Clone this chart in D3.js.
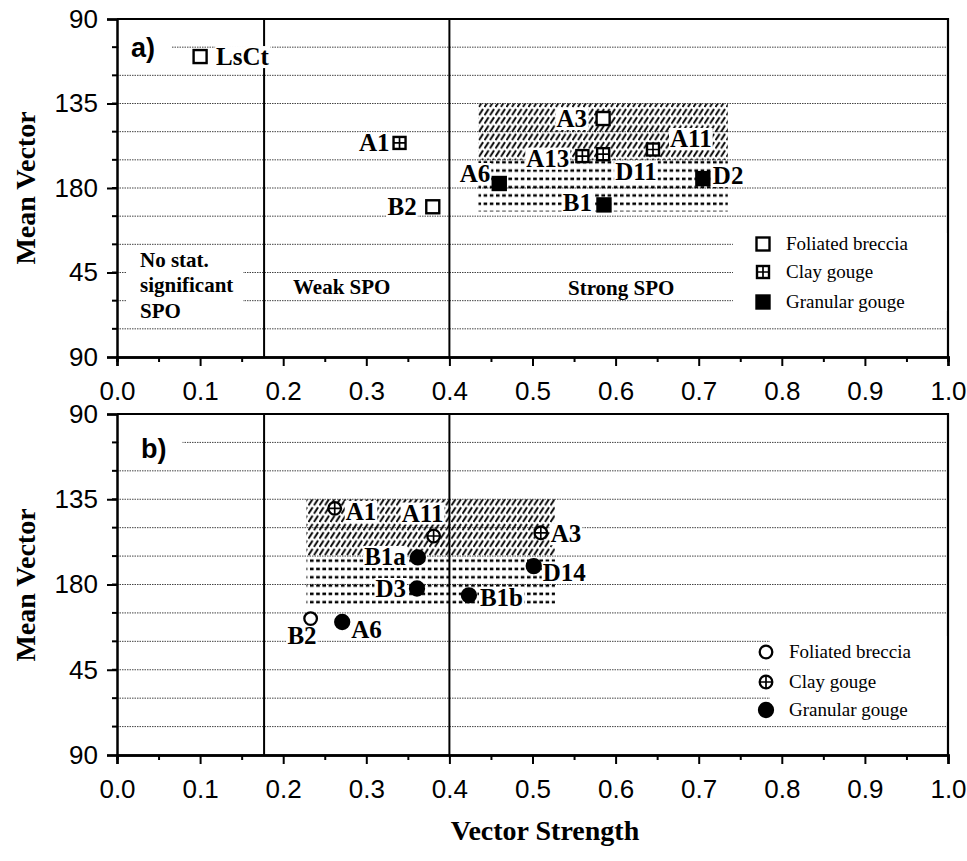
<!DOCTYPE html>
<html>
<head>
<meta charset="utf-8">
<script src="https://cdnjs.cloudflare.com/ajax/libs/d3/7.8.5/d3.min.js"></script>
<title>Vector strength vs mean vector</title>
<style>
    html, body { margin: 0; background: #fff; }
    svg { display: block; }
    .serif { font-family: "Liberation Serif", "Times New Roman", serif; }
    .sans { font-family: "Liberation Sans", Arial, Helvetica, sans-serif; }
    .tick text { font-family: "Liberation Sans", Arial, sans-serif; font-size: 26px; fill: #000; }
    .tick line { stroke: #000; stroke-width: 2; }
    .domain { stroke: #000; stroke-width: 2.5; }
    .grid { stroke: #444; stroke-width: 1; stroke-dasharray: 1.5,1; }
</style>
</head>
<body>
<svg id="chart" width="967" height="861"></svg>
<script>
// axes
var xTickValues = [0.0, 0.1, 0.2, 0.3, 0.4, 0.5, 0.6, 0.7, 0.8, 0.9, 1.0];
var xTickLabels = ["0.0", "0.1", "0.2", "0.3", "0.4", "0.5", "0.6", "0.7", "0.8", "0.9", "1.0"];
var yTickValues = [90, 135, 180, 225, 270];
var yTickLabels = ["90", "135", "180", "45", "90"];
var spoLimits = [0.177, 0.4];
var typeNames = ["Foliated breccia", "Clay gouge", "Granular gouge"];
var typeKeys = ["F", "C", "G"];

// panel a)
var aNames    = ["LsCt", "A1", "B2", "A3", "A13", "D11", "A11", "A6", "D2", "B1"];
var aStrength = [0.10, 0.34, 0.38, 0.585, 0.56, 0.585, 0.645, 0.46, 0.705, 0.586];
var aVector   = [110, 156, 190, 143, 163, 162, 159.5, 177.6, 175, 189];
var aType     = ["F", "C", "F", "F", "C", "C", "C", "G", "G", "G"];
var aHatch = [0.435, 0.735, 135, 165];
var aDash  = [0.435, 0.735, 165, 192.5];

// panel b)
var bNames    = ["A1", "A11", "A3", "B1a", "D14", "D3", "B1b", "B2", "A6"];
var bStrength = [0.262, 0.381, 0.51, 0.362, 0.5015, 0.361, 0.4235, 0.233, 0.271];
var bVector   = [139.8, 154.4, 152.7, 165.7, 170.3, 182.1, 185.7, 198, 199.8];
var bType     = ["C", "C", "C", "G", "G", "G", "G", "F", "G"];
var bHatch = [0.228, 0.527, 135, 165];
var bDash  = [0.228, 0.527, 165, 192];

// label placement (px from marker)
var aLabelPos = {
    "LsCt": [16, 0, "start"], "A1": [-10, 0, "end"], "B2": [-16, 0, "end"],
    "A3": [-16, 0, "end"], "A13": [-13, 2, "end"], "D11": [12, 17, "start"],
    "A11": [17, -11, "start"], "A6": [-9, -10, "end"], "D2": [10, -3, "start"],
    "B1": [-12, -2, "end"]
};
var bLabelPos = {
    "A1": [11, 3, "start"], "A11": [-11, -23, "middle"], "A3": [10, 1, "start"],
    "B1a": [-12, -1, "end"], "D14": [9, 6, "start"], "D3": [-11, 0, "end"],
    "B1b": [11, 2, "start"], "B2": [6, 17, "end"], "A6": [9, 7, "start"]
};

var svg = d3.select("#chart");
var defs = svg.append("defs");

defs.append("pattern")
    .attr("id", "hatch")
    .attr("patternUnits", "userSpaceOnUse")
    .attr("width", 5.5).attr("height", 8.3)
    .append("path")
    .attr("d", "M0.5,7.4 L4.6,1.0")
    .attr("stroke", "#000").attr("stroke-width", 1.9);

defs.append("pattern")
    .attr("id", "dash")
    .attr("patternUnits", "userSpaceOnUse")
    .attr("width", 6.2).attr("height", 8.3)
    .append("rect")
    .attr("x", 0).attr("y", 3.3).attr("width", 3.6).attr("height", 2.5)
    .attr("fill", "#000");

var left = 117, right = 948;

function addLabel(g, x, y, txt, anchor, size) {
    var t = g.append("text")
        .attr("class", "serif")
        .attr("x", x).attr("y", y)
        .attr("dy", "0.34em")
        .attr("text-anchor", anchor)
        .style("font-size", size + "px")
        .style("font-weight", "bold")
        .text(txt);
    var bb = t.node().getBBox();
    g.insert("rect", function() { return t.node(); })
        .attr("x", bb.x - 1).attr("y", bb.y + 3)
        .attr("width", bb.width + 2).attr("height", bb.height - 5)
        .attr("fill", "#fff");
    return t;
}

function drawMarker(g, x, y, type, shape) {
    var m = g.append("g").attr("transform", "translate(" + x + "," + y + ")");
    if (shape === "square") {
        var s = type === "C" ? 12 : 13;
        m.append("rect")
            .attr("x", -s / 2).attr("y", -s / 2).attr("width", s).attr("height", s)
            .attr("fill", type === "G" ? "#000" : "#fff")
            .attr("stroke", "#000").attr("stroke-width", 2.4);
        if (type === "C") {
            m.append("path").attr("d", "M0,-6 V6 M-6,0 H6")
                .attr("stroke", "#000").attr("stroke-width", 1.7);
        }
    } else {
        var r = type === "G" ? 7 : 6.3;
        m.append("circle").attr("r", r)
            .attr("fill", type === "G" ? "#000" : "#fff")
            .attr("stroke", "#000").attr("stroke-width", 2.3);
        if (type === "C") {
            m.append("path").attr("d", "M0,-6 V6 M-6,0 H6")
                .attr("stroke", "#000").attr("stroke-width", 1.7);
        }
    }
}

function drawPanel(cfg) {
    var x = d3.scaleLinear().domain([0, 1]).range([left, right]);
    var y = d3.scaleLinear().domain([90, 270]).range([cfg.top, cfg.bottom]);
    var g = svg.append("g");

    // gridlines every 15 degrees
    g.selectAll(".grid")
        .data(d3.range(105, 270, 15))
        .enter().append("line")
        .attr("class", "grid")
        .attr("x1", left).attr("x2", right)
        .attr("y1", function(d) { return y(d); })
        .attr("y2", function(d) { return y(d); });

    // minor y ticks
    g.selectAll(".ymin")
        .data(d3.range(105, 270, 15))
        .enter().append("line")
        .attr("x1", left - 5).attr("x2", left)
        .attr("y1", function(d) { return y(d); })
        .attr("y2", function(d) { return y(d); })
        .attr("stroke", "#000").attr("stroke-width", 2);

    // zones
    g.append("rect")
        .attr("x", x(cfg.hatch[0])).attr("width", x(cfg.hatch[1]) - x(cfg.hatch[0]))
        .attr("y", y(cfg.hatch[2])).attr("height", y(cfg.hatch[3]) - y(cfg.hatch[2]))
        .attr("fill", "url(#hatch)");
    g.append("rect")
        .attr("x", x(cfg.dash[0])).attr("width", x(cfg.dash[1]) - x(cfg.dash[0]))
        .attr("y", y(cfg.dash[2])).attr("height", y(cfg.dash[3]) - y(cfg.dash[2]))
        .attr("fill", "url(#dash)");

    // SPO limits
    g.selectAll(".limit")
        .data(spoLimits)
        .enter().append("line")
        .attr("x1", function(d) { return x(d); })
        .attr("x2", function(d) { return x(d); })
        .attr("y1", cfg.top).attr("y2", cfg.bottom)
        .attr("stroke", "#000").attr("stroke-width", 2);

    // frame top and right
    g.append("path")
        .attr("d", "M" + left + "," + cfg.top + " H" + right + " V" + cfg.bottom)
        .attr("fill", "none").attr("stroke", "#000").attr("stroke-width", 2.2);

    // axes
    g.append("g")
        .attr("transform", "translate(" + left + ",0)")
        .call(d3.axisLeft(y).tickValues(yTickValues).tickSize(10).tickPadding(9)
            .tickFormat(function(d, i) { return yTickLabels[i]; }));

    g.append("g")
        .attr("transform", "translate(0," + cfg.bottom + ")")
        .call(d3.axisBottom(x).tickValues(d3.range(0.05, 1, 0.1)).tickSize(5).tickFormat(""));
    g.append("g")
        .attr("transform", "translate(0," + cfg.bottom + ")")
        .call(d3.axisBottom(x).tickValues(xTickValues).tickSize(9).tickPadding(16)
            .tickFormat(function(d, i) { return xTickLabels[i]; }));

    // y title
    g.append("text")
        .attr("class", "serif")
        .attr("transform", "translate(35," + cfg.titleY + ") rotate(-90)")
        .attr("text-anchor", "middle")
        .style("font-size", "28px").style("font-weight", "bold")
        .text("Mean Vector");

    // panel letter
    var pl = g.append("text")
        .attr("class", "sans")
        .attr("x", cfg.letterX).attr("y", cfg.letterY)
        .style("font-size", "27px").style("font-weight", "bold")
        .text(cfg.letter);
    var pb = pl.node().getBBox();
    g.insert("rect", function() { return pl.node(); })
        .attr("x", left + 2).attr("y", pb.y)
        .attr("width", pb.x + pb.width + 14 - left).attr("height", pb.height)
        .attr("fill", "#fff");

    // legend
    g.append("rect")
        .attr("x", cfg.legend.boxX).attr("y", cfg.legend.boxY)
        .attr("width", right - 1.5 - cfg.legend.boxX).attr("height", cfg.legend.boxH)
        .attr("fill", "#fff");
    typeKeys.forEach(function(k, i) {
        var ly = cfg.legend.rows[i];
        drawMarker(g, cfg.legend.mx, ly, k, cfg.shape);
        g.append("text")
            .attr("class", "serif")
            .attr("x", cfg.legend.mx + 23).attr("y", ly)
            .attr("dy", "0.34em")
            .style("font-size", "19px")
            .text(typeNames[i]);
    });

    if (cfg.zoneLabels) cfg.zoneLabels(g, x, y);

    // points and labels
    cfg.names.forEach(function(n, i) {
        var px = x(cfg.strength[i]), py = y(cfg.vector[i]);
        var lp = cfg.labelPos[n];
        addLabel(g, px + lp[0], py + lp[1], n, lp[2], 25);
    });
    cfg.names.forEach(function(n, i) {
        drawMarker(g, x(cfg.strength[i]), y(cfg.vector[i]), cfg.type[i], cfg.shape);
    });
}

drawPanel({
    top: 19, bottom: 357, titleY: 188, letter: "a)", letterX: 131, letterY: 57,
    names: aNames, strength: aStrength, vector: aVector, type: aType,
    hatch: aHatch, dash: aDash, labelPos: aLabelPos, shape: "square",
    legend: { boxX: 733, boxY: 233, boxH: 78, mx: 763, rows: [244, 272, 302] },
    zoneLabels: function(g, x, y) {
        g.append("rect").attr("x", 127).attr("y", 250).attr("width", 116).attr("height", 70)
            .attr("fill", "#fff");
        ["No stat.", "significant", "SPO"].forEach(function(t, i) {
            g.append("text").attr("class", "serif")
                .attr("x", 140).attr("y", 260 + i * 25.3).attr("dy", "0.34em")
                .style("font-size", "21px").style("font-weight", "bold").text(t);
        });
        g.append("text").attr("class", "serif")
            .attr("x", 293).attr("y", 286.5).attr("dy", "0.34em")
            .style("font-size", "21px").style("font-weight", "bold").text("Weak SPO");
        g.append("text").attr("class", "serif")
            .attr("x", 568).attr("y", 287.5).attr("dy", "0.34em")
            .style("font-size", "21px").style("font-weight", "bold").text("Strong SPO");
    }
});

drawPanel({
    top: 414, bottom: 755, titleY: 585, letter: "b)", letterX: 141, letterY: 458,
    names: bNames, strength: bStrength, vector: bVector, type: bType,
    hatch: bHatch, dash: bDash, labelPos: bLabelPos, shape: "circle",
    legend: { boxX: 770, boxY: 636, boxH: 86, mx: 766, rows: [652, 682, 710] }
});

svg.append("text")
    .attr("class", "serif")
    .attr("x", 545).attr("y", 840)
    .attr("text-anchor", "middle")
    .style("font-size", "28px").style("font-weight", "bold")
    .text("Vector Strength");
</script>
</body>
</html>
